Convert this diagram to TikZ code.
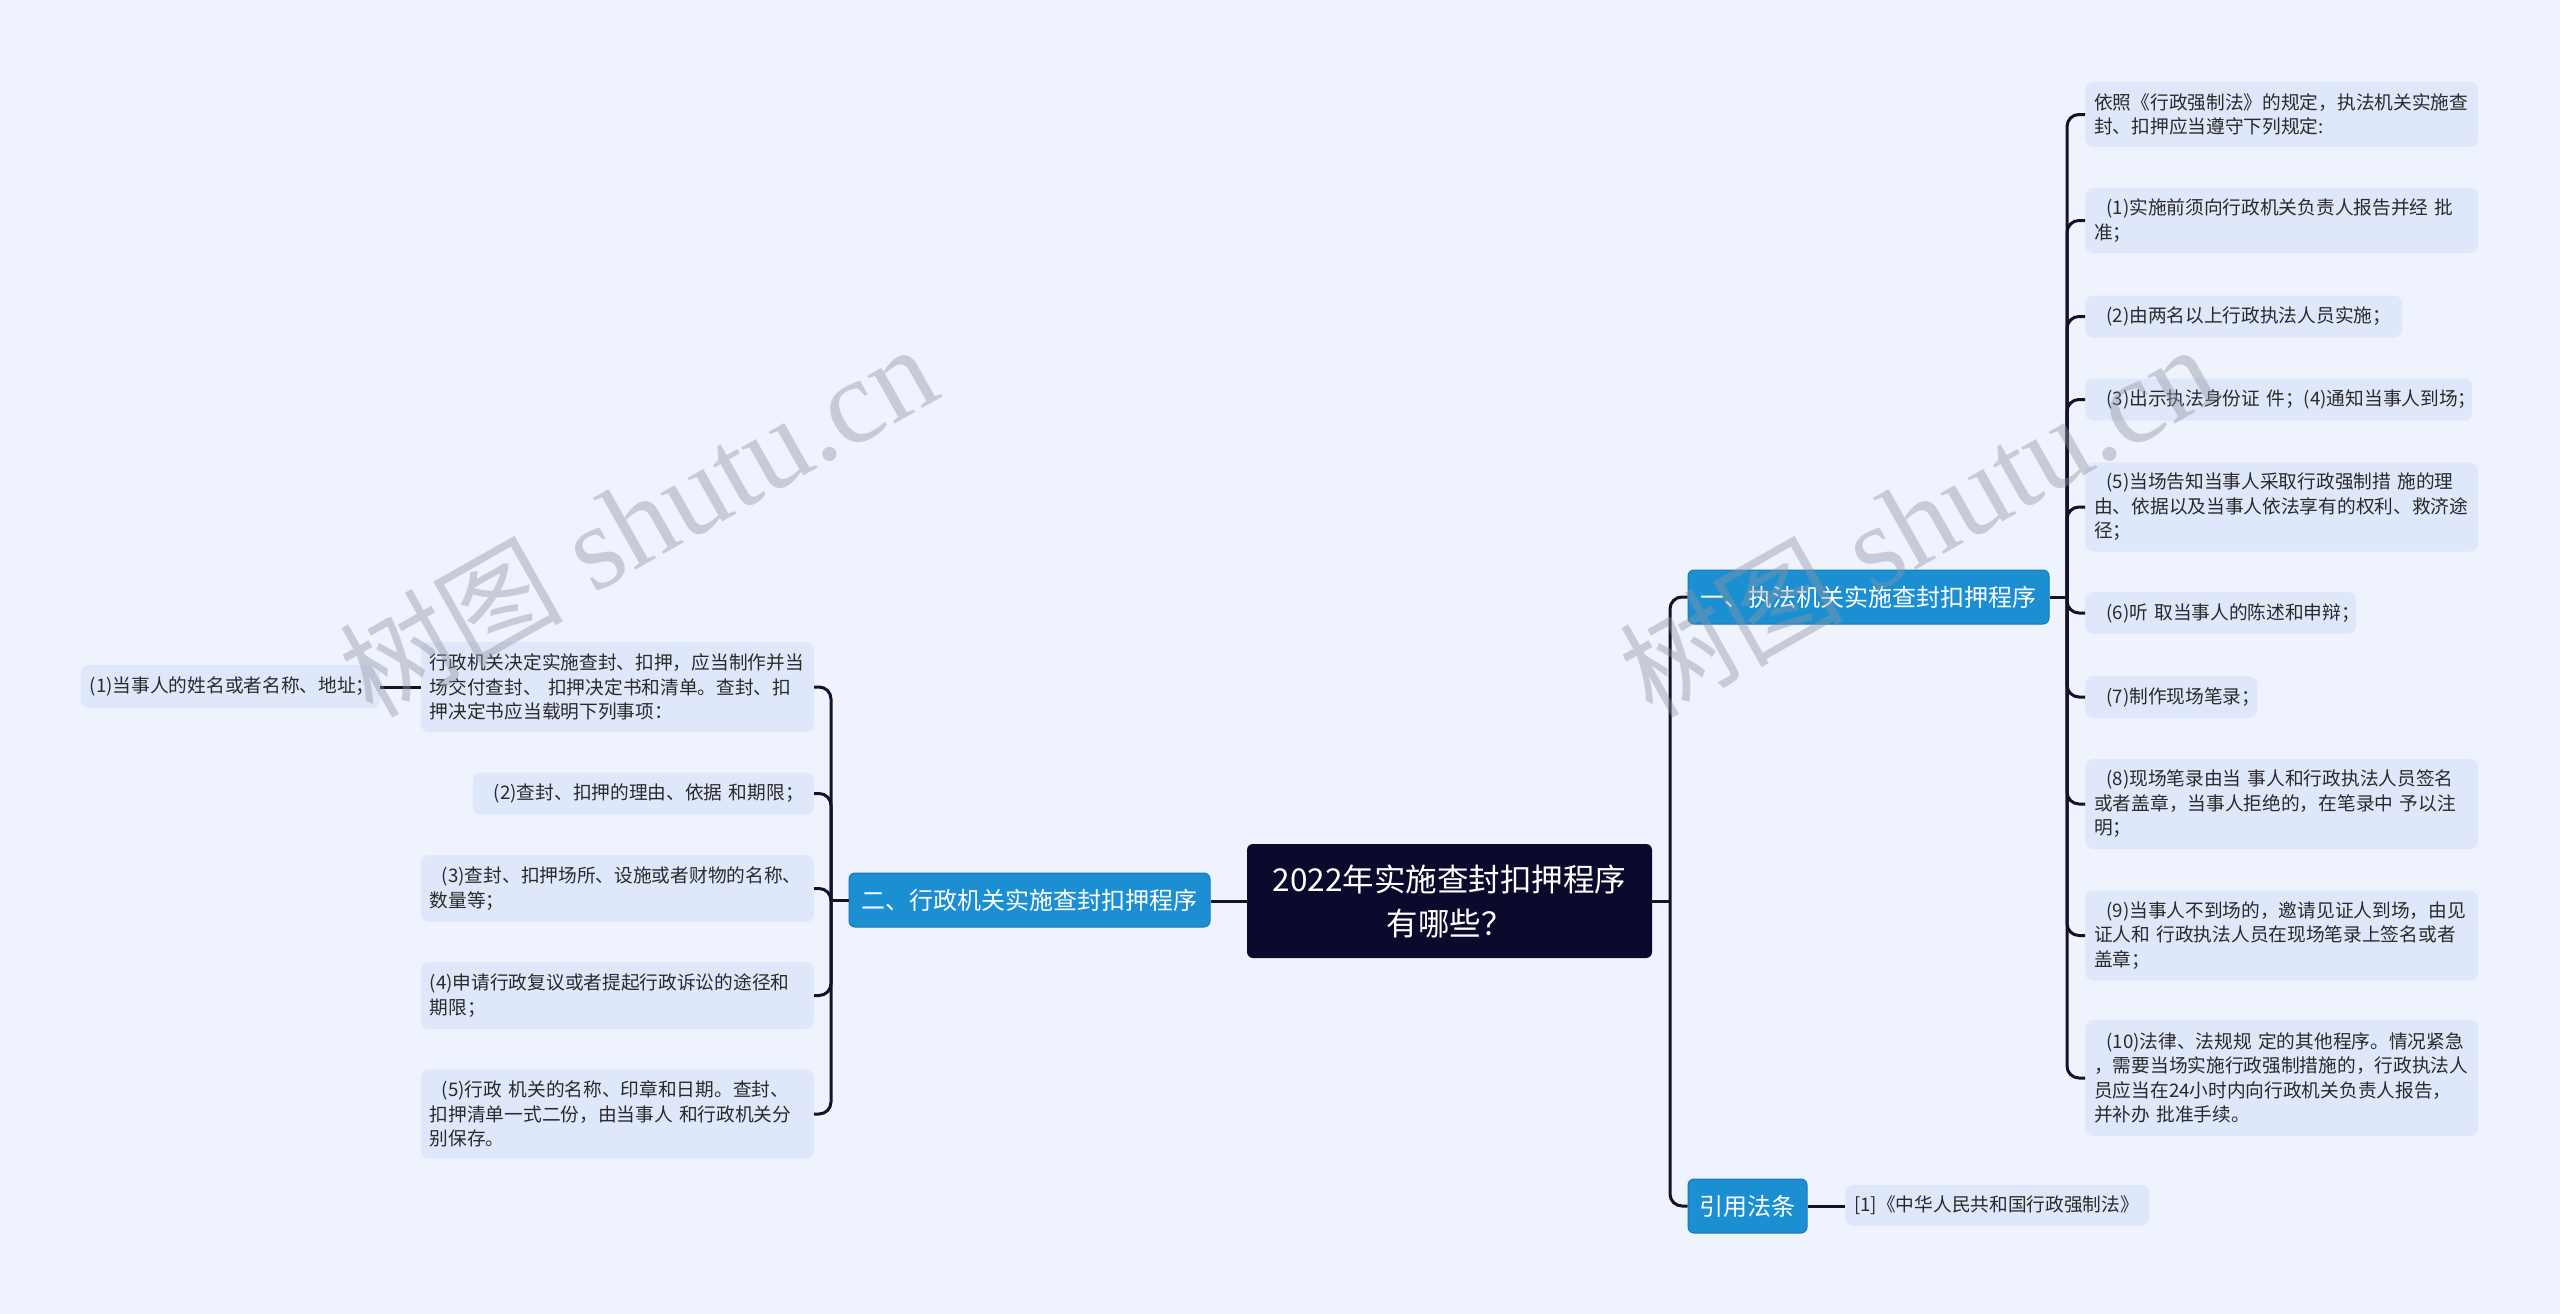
\documentclass[tikz,border=0pt]{standalone}
\usepackage{fontspec}
\setmainfont{Noto Sans CJK SC}
\newfontfamily\wmserif{Liberation Serif}
\newfontfamily\wmcjk{Noto Sans CJK SC}
\definecolor{bgc}{HTML}{EEF3FE}
\definecolor{leaffill}{HTML}{DFE8FA}
\definecolor{branchfill}{HTML}{1B8FD2}
\definecolor{branchline}{HTML}{1479B8}
\definecolor{rootfill}{HTML}{0B0A2C}
\definecolor{linec}{HTML}{12122A}
\definecolor{textc}{HTML}{2A2A2A}
\definecolor{wmc}{HTML}{8F95A3}
\newcommand\myind{\hspace*{0.65em}}
\begin{document}
\begin{tikzpicture}[x=1pt,y=-1pt,
  leaf/.style={fill=leaffill, rounded corners=8pt, inner xsep=9pt, inner ysep=0pt,
    align=left, anchor=west, text=textc, font=\fontsize{18.7}{24.5}\selectfont},
  leafL/.style={leaf, anchor=east},
  branch/.style={fill=branchfill, draw=branchline, line width=1pt, rounded corners=6pt,
    text=white, font=\fontsize{24}{30}\selectfont, inner sep=0pt, minimum height=54pt},
  rootbox/.style={fill=rootfill, rounded corners=6pt, text=white, align=center,
    font=\fontsize{31.5}{44}\selectfont, minimum width=405pt, minimum height=114pt, inner sep=0pt},
  conn/.style={draw=linec, line width=3pt, rounded corners=12pt},
  wm/.style={text=wmc, text opacity=0.42, font=\wmserif\fontsize{120}{120}\selectfont,
    anchor=base west, rotate=29.5, inner sep=0pt}
]
\fill[bgc] (0,0) rectangle (2560,1314);
\useasboundingbox (0,0) rectangle (2560,1314);

% root and branches
\node[rootbox] (root) at (1449.5,901) {2022年实施查封扣押程序\\有哪些？};
\node[branch, minimum width=361pt] (b1) at (1868.5,597) {一、执法机关实施查封扣押程序};
\node[branch, minimum width=361pt] (b2) at (1029.5,900) {二、行政机关实施查封扣押程序};
\node[branch, minimum width=119pt] (b3) at (1747.5,1206) {引用法条};

% right leaves
\node[leaf, text width=375pt, minimum height=65pt] (r0) at (2085,114.5)
  {依照《行政强制法》的规定，执法机关实施查\\封、扣押应当遵守下列规定:};
\node[leaf, text width=375pt, minimum height=65pt] (r1) at (2085,220.5)
  {\myind(1)实施前须向行政机关负责人报告并经~批\\准；};
\node[leaf, text width=299pt, minimum height=42pt] (r2) at (2085,316.5)
  {\myind(2)由两名以上行政执法人员实施；};
\node[leaf, text width=369pt, minimum height=42pt] (r3) at (2085,399.5)
  {\myind(3)出示执法身份证~件；(4)通知当事人到场；};
\node[leaf, text width=375pt, minimum height=89pt] (r4) at (2085,507)
  {\myind(5)当场告知当事人采取行政强制措~施的理\\由、依据以及当事人依法享有的权利、救济途\\径；};
\node[leaf, text width=253pt, minimum height=42pt] (r5) at (2085,613)
  {\myind(6)听~取当事人的陈述和申辩；};
\node[leaf, text width=154pt, minimum height=42pt] (r6) at (2085,697)
  {\myind(7)制作现场笔录；};
\node[leaf, text width=375pt, minimum height=90pt] (r7) at (2085,804)
  {\myind(8)现场笔录由当~事人和行政执法人员签名\\或者盖章，当事人拒绝的，在笔录中~予以注\\明；};
\node[leaf, text width=375pt, minimum height=90pt] (r8) at (2085,935.5)
  {\myind(9)当事人不到场的，邀请见证人到场，由见\\证人和~行政执法人员在现场笔录上签名或者\\盖章；};
\node[leaf, text width=375pt, minimum height=116pt] (r9) at (2085,1078)
  {\myind(10)法律、法规规~定的其他程序。情况紧急\\，需要当场实施行政强制措施的，行政执法人\\员应当在24小时内向行政机关负责人报告，\\并补办~批准手续。};
\node[leaf, text width=286pt, minimum height=41pt] (cite) at (1845,1205.5)
  {[1]《中华人民共和国行政强制法》};

% left leaves
\node[leafL, text width=375pt, minimum height=90pt] (l0) at (814,687)
  {行政机关决定实施查封、扣押，应当制作并当\\场交付查封、~扣押决定书和清单。查封、扣\\押决定书应当载明下列事项：};
\node[leafL, text width=281pt, minimum height=43pt] (l1) at (380,686.5)
  {(1)当事人的姓名或者名称、地址；};
\node[leafL, text width=323pt, minimum height=42pt] (l2) at (814,793.5)
  {\myind(2)查封、扣押的理由、依据~和期限；};
\node[leafL, text width=375pt, minimum height=67pt] (l3) at (814,888.5)
  {\myind(3)查封、扣押场所、设施或者财物的名称、\\数量等；};
\node[leafL, text width=375pt, minimum height=67pt] (l4) at (814,995.5)
  {(4)申请行政复议或者提起行政诉讼的途径和\\期限；};
\node[leafL, text width=375pt, minimum height=89pt] (l5) at (814,1114)
  {\myind(5)行政~机关的名称、印章和日期。查封、\\扣押清单一式二份，由当事人~和行政机关分\\别保存。};

% junctions
\coordinate (jr) at (1670,901);
\coordinate (j1) at (2067,597);
\coordinate (j2) at (831,900);

% connectors
\draw[conn] (root.west) -- (root.west -| b2.east);
\draw[conn] (root.east) -- (jr);
\draw[conn] (jr) |- (b1.west);
\draw[conn] (jr) |- (b3.west);
\draw[conn] (b3.east) -- (b3.east -| cite.west);
\draw[conn] (b1.east) -- (j1);
\foreach \n in {r0,r1,r2,r3,r4,r5,r6,r7,r8,r9}{\draw[conn] (j1) |- (\n.west);}
\draw[conn] (b2.west) -- (j2);
\foreach \n in {l0,l2,l3,l4,l5}{\draw[conn] (j2) |- (\n.east);}
\draw[conn] (l0.west) -- (l0.west -| l1.east);

% watermarks
\node[wm] (wm1) at (372,720) {{\wmcjk\fontsize{112}{112}\selectfont 树图} shutu.cn};
\node[wm] (wm2) at (1652,720) {{\wmcjk\fontsize{112}{112}\selectfont 树图} shutu.cn};
\end{tikzpicture}
\end{document}
